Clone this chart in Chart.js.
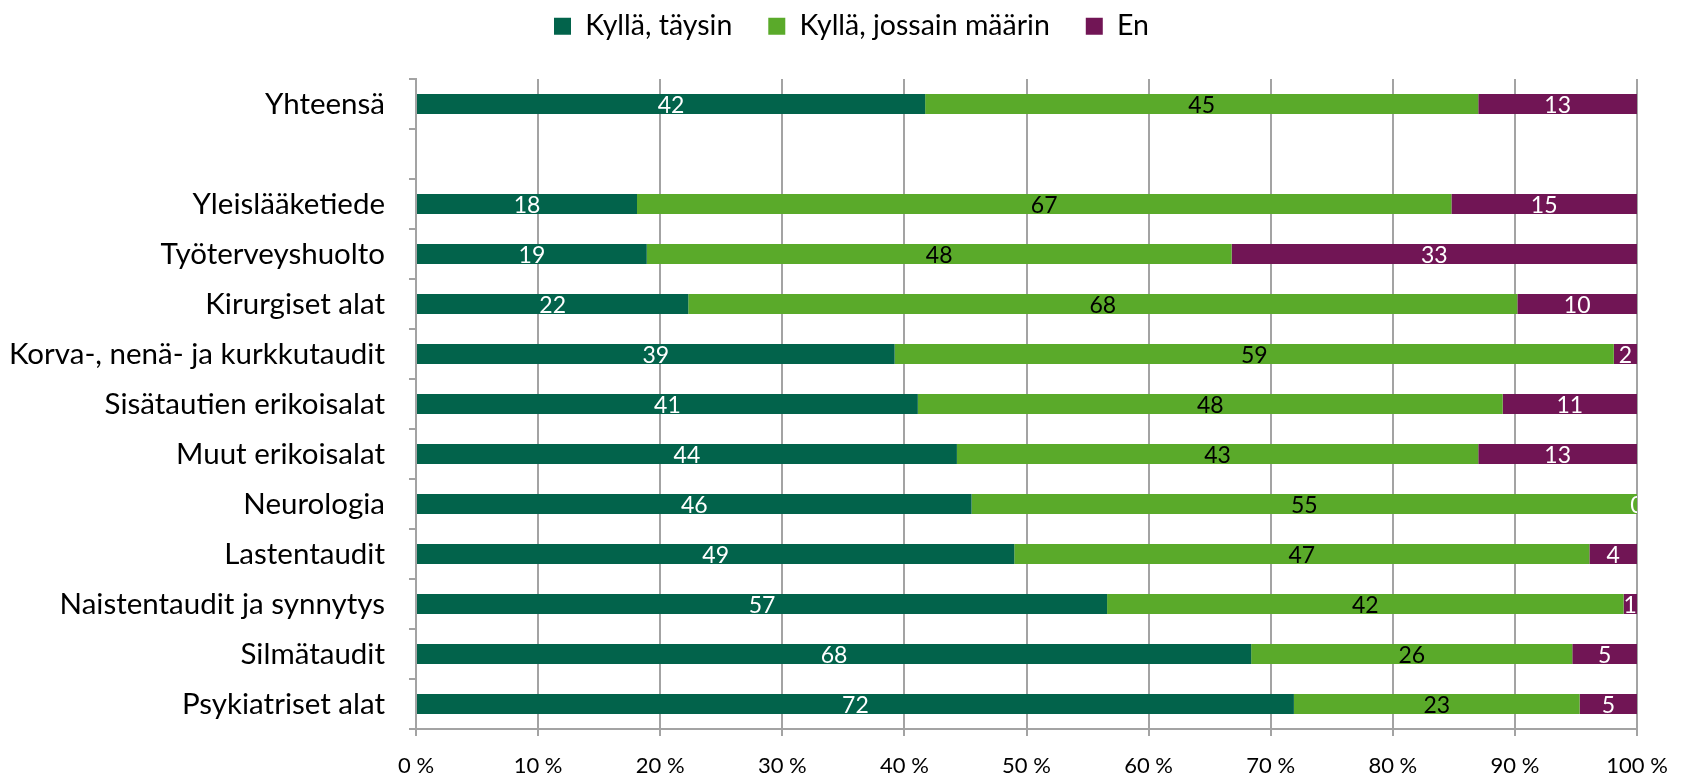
<!DOCTYPE html>
<html>
<head>
<meta charset="utf-8">
<script src="https://cdn.jsdelivr.net/npm/chart.js@4.4.1/dist/chart.umd.min.js"></script>
<style>
  html, body { margin: 0; padding: 0; background: #ffffff; }
  #wrap { width: 1687px; height: 774px; }
</style>
</head>
<body>
<div id="wrap"><canvas id="c" width="1687" height="774"></canvas></div>
<script>
// ---- Data (percentages) ----
const categories = [
  'Yhteensä', '',
  'Yleislääketiede', 'Työterveyshuolto', 'Kirurgiset alat',
  'Korva-, nenä- ja kurkkutaudit', 'Sisätautien erikoisalat', 'Muut erikoisalat',
  'Neurologia', 'Lastentaudit', 'Naistentaudit ja synnytys', 'Silmätaudit', 'Psykiatriset alat'
];
const seriesNames = ['Kyllä, täysin', 'Kyllä, jossain määrin', 'En'];
const kyllaTaysin   = [41.7, null, 18.1, 18.9, 22.3, 39.2, 41.1, 44.3, 45.5, 49.0, 56.6, 68.4, 71.9];
const kyllaJossain  = [45.3, null, 66.7, 47.9, 67.9, 58.9, 47.9, 42.7, 54.5, 47.1, 42.3, 26.3, 23.4];
const en            = [13.0, null, 15.2, 33.2,  9.8,  1.9, 11.0, 13.0,  0.0,  3.9,  1.1,  5.3,  4.7];
const xTicks = [0, 10, 20, 30, 40, 50, 60, 70, 80, 90, 100];

const FONT = 'Lato';
const GRID = '#a3a3a3';
const colors = ['#02634B', '#5AAA2A', '#711555'];
const labelColors = ['#ffffff', '#000000', '#ffffff'];

const valueLabels = {
  id: 'valueLabels',
  afterDatasetsDraw(chart) {
    const ctx = chart.ctx;
    const area = chart.chartArea;
    ctx.save();
    ctx.beginPath();
    ctx.rect(area.left, area.top, area.right - area.left, area.bottom - area.top);
    ctx.clip();
    ctx.font = '23px ' + FONT;
    ctx.textAlign = 'center';
    ctx.textBaseline = 'middle';
    chart.data.datasets.forEach((ds, di) => {
      const meta = chart.getDatasetMeta(di);
      meta.data.forEach((el, i) => {
        const v = ds.data[i];
        if (v === null || v === undefined) return;
        const p = el.getProps(['x', 'y', 'base'], true);
        ctx.fillStyle = labelColors[di];
        ctx.fillText(String(Math.round(v)), (p.x + p.base) / 2, p.y + 2);
      });
    });
    ctx.restore();
  }
};

const legendHeight = {
  id: 'legendHeight',
  beforeInit(chart) {
    const orig = chart.legend.fit;
    chart.legend.fit = function () {
      orig.call(this);
      this.height = 79 + 24;
    };
  }
};

function build() {
  new Chart(document.getElementById('c'), {
    type: 'bar',
    data: {
      labels: categories,
      datasets: [
        { label: seriesNames[0], data: kyllaTaysin, backgroundColor: colors[0] },
        { label: seriesNames[1], data: kyllaJossain, backgroundColor: colors[1] },
        { label: seriesNames[2], data: en, backgroundColor: colors[2] }
      ]
    },
    options: {
      indexAxis: 'y',
      responsive: false,
      animation: false,
      devicePixelRatio: 1,
      layout: { padding: { top: -24, right: -16, bottom: 0, left: 0 } },
      datasets: { bar: { categoryPercentage: 1, barPercentage: 0.4, borderWidth: 0 } },
      plugins: {
        legend: {
          position: 'top',
          align: 'center',
          labels: {
            font: { family: FONT, size: 28.5 },
            color: '#000000',
            boxWidth: 17,
            boxHeight: 17,
            padding: 36
          }
        },
        tooltip: { enabled: false }
      },
      scales: {
        x: {
          stacked: true,
          min: 0,
          max: 100,
          afterBuildTicks(scale) { scale.ticks = xTicks.map(v => ({ value: v })); },
          afterFit(scale) { scale.height = 45; },
          ticks: {
            callback: v => v + ' %',
            font: { family: FONT, size: 22 },
            color: '#000000',
            padding: 17,
            maxRotation: 0
          },
          grid: { color: GRID, lineWidth: 2, tickLength: 7, drawTicks: true },
          border: { color: GRID, width: 2 }
        },
        y: {
          stacked: true,
          afterFit(scale) { scale.width = 416; },
          ticks: {
            font: { family: FONT, size: 29.5 },
            color: '#000000',
            padding: 24,
            autoSkip: false
          },
          grid: { offset: true, drawOnChartArea: false, color: GRID, lineWidth: 2, tickLength: 7 },
          border: { color: GRID, width: 2 }
        },
        spacer: {
          type: 'linear',
          position: 'right',
          display: true,
          afterFit(scale) { scale.width = 66; },
          ticks: { display: false },
          grid: { display: false, drawTicks: false },
          border: { display: false }
        }
      }
    },
    plugins: [valueLabels, legendHeight]
  });
}

const fontLoads = ['22px', '23px', '28.5px', '29.5px'].map(s => document.fonts.load(s + ' ' + FONT));
Promise.all(fontLoads).then(build, build);
</script>
</body>
</html>
